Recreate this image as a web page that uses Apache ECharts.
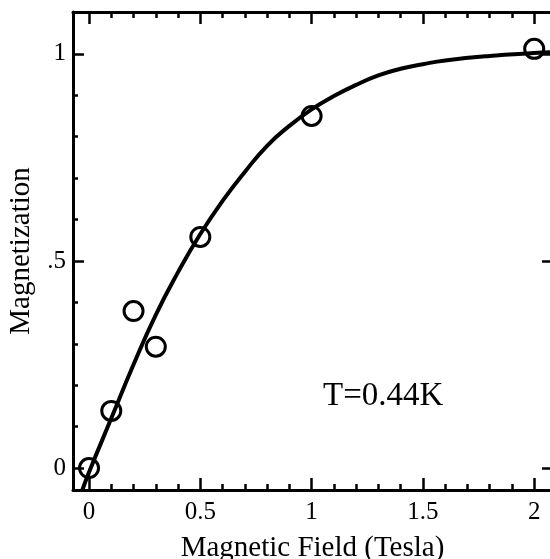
<!DOCTYPE html>
<html>
<head>
<meta charset="utf-8">
<script src="https://cdn.jsdelivr.net/npm/echarts@6/dist/echarts.min.js"></script>
<style>html,body{margin:0;padding:0;background:#fff}#c{width:550px;height:559px}</style>
</head>
<body>
<div id="c"></div>
<script>
// Measured points
var fieldValues = [0, 0.1, 0.2, 0.3, 0.5, 1.0, 2.0];
var magValues = [0, 0.138, 0.379, 0.293, 0.558, 0.85, 1.012];
// Fitted curve
var curveX = [-0.03, 0, 0.1, 0.2, 0.3, 0.4, 0.5, 0.6, 0.7, 0.8, 0.9, 1.0, 1.1, 1.2, 1.3, 1.4, 1.5, 1.6, 1.8, 2.0, 2.08];
var curveY = [-0.053, -0.01, 0.12, 0.25, 0.37, 0.473, 0.565, 0.645, 0.715, 0.778, 0.826, 0.866, 0.898, 0.925, 0.948, 0.964, 0.975, 0.984, 0.995, 1.002, 1.004];
// Ticks
var xMajorTicks = [0, 0.5, 1, 1.5, 2];
var xMinorTicks = [0.1, 0.2, 0.3, 0.4, 0.6, 0.7, 0.8, 0.9, 1.1, 1.2, 1.3, 1.4, 1.6, 1.7, 1.8, 1.9];
var yMajorTicks = [0, 0.5, 1];
var yTickLabels = ['0', '.5', '1'];
var yMinorTicks = [0.1, 0.2, 0.3, 0.4, 0.6, 0.7, 0.8, 0.9];
var xTitle = 'Magnetic Field (Tesla)';
var yTitle = 'Magnetization';
var annotation = 'T=0.44K';

var XMIN = -0.072, XMAX = 2.08, YMIN = -0.053, YMAX = 1.101;
var FONT = 'Liberation Serif';
var axisLine = {show: true, onZero: false, lineStyle: {color: '#000', width: 3}};
var noLine = {show: false, onZero: false};

function xAx(pos, ticks, len, main) {
  return {
    type: 'value', position: pos, min: XMIN, max: XMAX, gridIndex: 0,
    axisLine: main ? axisLine : noLine,
    axisTick: {show: true, inside: true, length: len, lineStyle: {color: '#000', width: 2.5}, customValues: ticks},
    axisLabel: (main && pos === 'bottom') ? {show: true, customValues: xMajorTicks, color: '#000', fontFamily: FONT, fontSize: 25, margin: 10} : {show: false},
    splitLine: {show: false},
    name: (main && pos === 'bottom') ? xTitle : '',
    nameLocation: 'middle', nameGap: 44,
    nameTextStyle: {color: '#000', fontFamily: FONT, fontSize: 29}
  };
}
function yAx(pos, ticks, len, main) {
  return {
    type: 'value', position: pos, min: YMIN, max: YMAX, gridIndex: 0,
    axisLine: main ? axisLine : noLine,
    axisTick: {show: true, inside: true, length: len, lineStyle: {color: '#000', width: 2.5}, customValues: ticks},
    axisLabel: (main && pos === 'left') ? {show: true, customValues: yMajorTicks, color: '#000', fontFamily: FONT, fontSize: 25, margin: 7,
      formatter: function (v) { var i = yMajorTicks.indexOf(Math.round(v * 100) / 100); return i >= 0 ? yTickLabels[i] : ''; }} : {show: false},
    splitLine: {show: false},
    name: (main && pos === 'left') ? yTitle : '',
    nameLocation: 'middle', nameGap: 33, nameRotate: 90,
    nameTextStyle: {color: '#000', fontFamily: FONT, fontSize: 29}
  };
}

var chart = echarts.init(document.getElementById('c'), null, {renderer: 'canvas'});
chart.setOption({
  animation: false,
  backgroundColor: '#fff',
  grid: {left: 73, right: -2, top: 12, bottom: 69, containLabel: false, outerBoundsMode: 'none'},
  xAxis: [
    xAx('bottom', xMajorTicks, 12, true),
    xAx('bottom', xMinorTicks, 6, false),
    xAx('top', xMajorTicks, 12, true),
    xAx('top', xMinorTicks, 6, false)
  ],
  yAxis: [
    yAx('left', yMajorTicks, 11, true),
    yAx('left', yMinorTicks, 5, false),
    yAx('right', yMajorTicks, 10, true)
  ],
  graphic: [{
    type: 'text', left: 323, top: 380,
    style: {text: annotation, fill: '#000', font: '33px "Liberation Serif"'}
  }],
  series: [
    {
      type: 'line', xAxisIndex: 0, yAxisIndex: 0, smooth: 0.5, showSymbol: false, z: 2,
      lineStyle: {color: '#000', width: 4},
      data: curveX.map(function (x, i) { return [x, curveY[i]]; })
    },
    {
      type: 'scatter', xAxisIndex: 0, yAxisIndex: 0, z: 3,
      symbol: 'circle', symbolSize: 19,
      itemStyle: {color: 'rgba(0,0,0,0)', borderColor: '#000', borderWidth: 3, opacity: 1},
      data: fieldValues.map(function (x, i) { return [x, magValues[i]]; })
    }
  ]
});
</script>
</body>
</html>
